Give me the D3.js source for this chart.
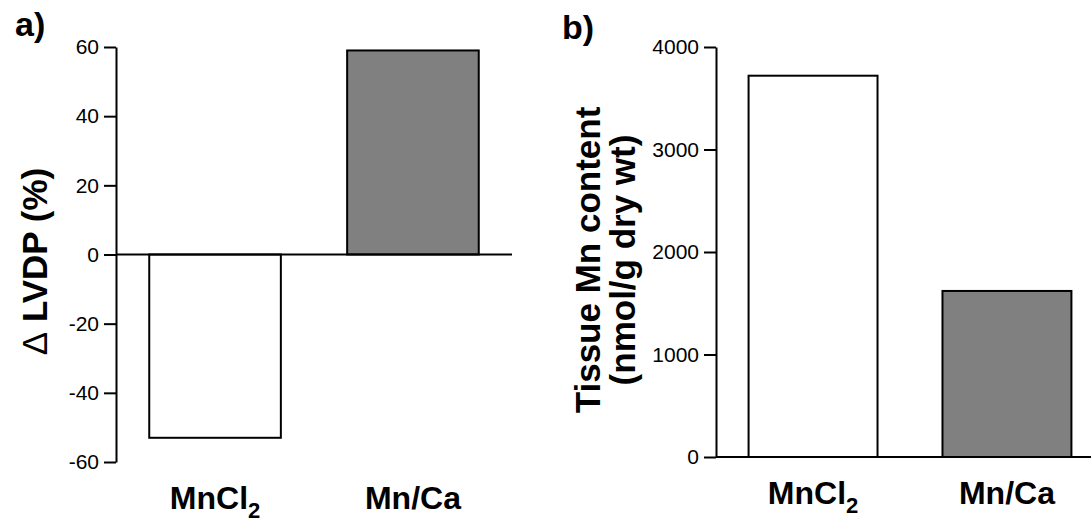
<!DOCTYPE html>
<html>
<head>
<meta charset="utf-8">
<script src="https://cdn.jsdelivr.net/npm/d3@7"></script>
<style>
	body { margin: 0; background: #fff; }
	svg { display: block; font-family: "Liberation Sans", Arial, sans-serif; }
</style>
</head>
<body>
<div id="my_dataviz"></div>
<script>
// data
const categories = ["MnCl2", "Mn/Ca"];
const lvdpValues = [-53, 59];
const mnValues = [3720, 1620];
const barColors = ["#ffffff", "#808080"];
const lvdpTicks = [-60, -40, -20, 0, 20, 40, 60];
const mnTicks = [0, 1000, 2000, 3000, 4000];

const width = 1091;
const height = 522;

const svg = d3
	.select("#my_dataviz")
	.append("svg")
	.attr("width", width)
	.attr("height", height);

// draw one panel
function panel(opts) {
	const g = svg.append("g");

	const y = d3.scaleLinear().domain(opts.domain).range([opts.bottom, 47]);
	const x = d3
		.scaleBand()
		.domain(categories)
		.range([opts.left, opts.right])
		.paddingInner(0.335)
		.paddingOuter(0.168);

	// bars
	g.selectAll("rect")
		.data(opts.values)
		.join("rect")
		.attr("x", (d, i) => x(categories[i]))
		.attr("width", x.bandwidth())
		.attr("y", (d) => y(Math.max(0, d)))
		.attr("height", (d) => Math.abs(y(d) - y(0)))
		.attr("fill", (d, i) => barColors[i])
		.attr("stroke", "#000")
		.attr("stroke-width", 2);

	// baseline at zero
	g.append("line")
		.attr("x1", opts.left)
		.attr("x2", opts.lineEnd)
		.attr("y1", y(0))
		.attr("y2", y(0))
		.attr("stroke", "#000")
		.attr("stroke-width", 2);

	// y axis, plain hyphen minus and no thousands comma
	const axis = g
		.append("g")
		.attr("transform", "translate(" + opts.left + ",0)")
		.call(
			d3
				.axisLeft(y)
				.tickValues(opts.ticks)
				.tickFormat((d) => String(d))
				.tickSize(12)
				.tickSizeOuter(0)
				.tickPadding(5)
		);
	axis.select(".domain").attr("stroke-width", 2);
	axis.selectAll(".tick line").attr("stroke-width", 2);
	axis.selectAll(".tick text")
		.attr("font-size", 21)
		.attr("font-family", "Liberation Sans, Arial, sans-serif")
		.attr("fill", "#000");

	// category labels
	const lab = g
		.selectAll(".cat")
		.data(categories)
		.join("text")
		.attr("class", "cat")
		.attr("x", (d) => x(d) + x.bandwidth() / 2)
		.attr("y", opts.bottom + 47)
		.attr("text-anchor", "middle")
		.attr("font-size", 32)
		.attr("font-weight", "bold");
	lab.each(function (d) {
		const t = d3.select(this);
		if (d === "MnCl2") {
			t.append("tspan").text("MnCl");
			t.append("tspan").attr("font-size", 22).attr("dy", 9).text("2");
		} else {
			t.text(d);
		}
	});

	// y title (delta sign drawn thin like the original)
	const mid = (y.range()[0] + y.range()[1]) / 2;
	opts.title.forEach(function (line, i) {
		const t = g.append("text")
			.attr("transform", "translate(" + (opts.titleX + i * 35) + "," + (mid + opts.titleDy) + ") rotate(-90)")
			.attr("text-anchor", "middle")
			.attr("font-size", 35)
			.attr("font-weight", "bold");
		if (line.startsWith("\u0394")) {
			t.append("tspan").attr("font-weight", "normal").text("\u0394");
			t.append("tspan").text(line.slice(1));
		} else {
			t.text(line);
		}
	});

	// panel letter
	svg.append("text")
		.attr("x", opts.letterX)
		.attr("y", opts.letterY)
		.attr("font-size", 34)
		.attr("font-weight", "bold")
		.text(opts.letter);
}

panel({
	values: lvdpValues,
	domain: [-60, 60],
	ticks: lvdpTicks,
	left: 116,
	right: 512,
	lineEnd: 512,
	bottom: 462,
	title: ["\u0394 LVDP (%)"],
	titleX: 47,
	titleDy: 7,
	letter: "a)",
	letterX: 15,
	letterY: 36
});

panel({
	values: mnValues,
	domain: [0, 4000],
	ticks: mnTicks,
	left: 716,
	right: 1104,
	lineEnd: 1104,
	bottom: 457,
	title: ["Tissue Mn content", "(nmol/g dry wt)"],
	titleX: 600,
	titleDy: 8,
	letter: "b)",
	letterX: 562,
	letterY: 39
});
</script>
</body>
</html>
